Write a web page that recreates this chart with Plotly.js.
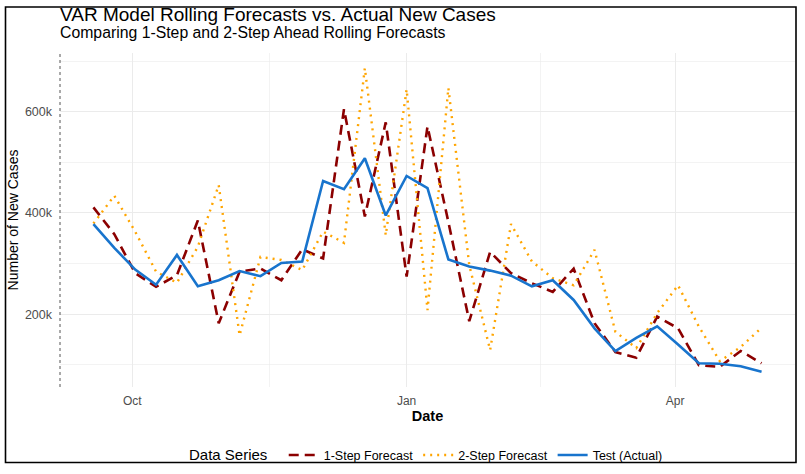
<!DOCTYPE html>
<html>
<head>
<meta charset="utf-8">
<script src="https://cdn.plot.ly/plotly-3.0.1.min.js"></script>
<style>html,body{margin:0;padding:0;background:#fff;}#chart{width:805px;height:474px;}</style>
</head>
<body>
<div id="chart"></div>
<script>
// Weekly dates
const dates = ["2020-09-18","2020-09-25","2020-10-02","2020-10-09","2020-10-16","2020-10-23","2020-10-30",
  "2020-11-06","2020-11-13","2020-11-20","2020-11-27","2020-12-04","2020-12-11","2020-12-18","2020-12-25",
  "2021-01-01","2021-01-08","2021-01-15","2021-01-22","2021-01-29","2021-02-05","2021-02-12","2021-02-19",
  "2021-02-26","2021-03-05","2021-03-12","2021-03-19","2021-03-26","2021-04-02","2021-04-09","2021-04-16",
  "2021-04-23","2021-04-30"];

// Test (Actual) new cases
const actual = [378000,331000,288000,258000,317000,255000,267000,285000,275000,301000,304000,
  463000,447000,508000,395000,473000,449000,308000,294000,286000,276000,255000,267000,228000,
  172000,127000,153000,176000,140000,103000,102000,97000,86000];

// 1-Step Forecast
const step1 = [411000,358000,281000,254000,277000,385000,182000,284000,290000,267000,328000,
  310000,605000,393000,579000,274000,571000,382000,186000,323000,281000,261000,244000,290000,
  182000,125000,114000,195000,172000,99000,96000,127000,103000];

// 2-Step Forecast
const step2 = [379000,434000,363000,284000,262000,333000,455000,158000,313000,307000,287000,
  363000,341000,686000,356000,644000,208000,647000,297000,129000,378000,304000,271000,257000,
  327000,165000,133000,202000,257000,175000,107000,135000,173000];

const seriesNames = ["1-Step Forecast","2-Step Forecast","Test (Actual)"];
const yTickVals = [200000,400000,600000];
const yTickText = ["200k","400k","600k"];
const xTickVals = ["2020-10-01","2021-01-01","2021-04-01"];
const xTickText = ["Oct","Jan","Apr"];

const traces = [
  {x: dates, y: step1, name: seriesNames[0], type: "scatter", mode: "lines",
   line: {color: "#8B0000", width: 2.6, dash: "10px,6px"}},
  {x: dates, y: step2, name: seriesNames[1], type: "scatter", mode: "lines",
   line: {color: "#FFA500", width: 2.4, dash: "2px,5px"}},
  {x: dates, y: actual, name: seriesNames[2], type: "scatter", mode: "lines",
   line: {color: "#1874CD", width: 2.6}}
];

const T = 53.4, B = 386.7, H = B - T;
const grid = "#ebebeb";
const layout = {
  width: 805, height: 474,
  margin: {l: 60, r: 10, t: T, b: 474 - B, autoexpand: false},
  paper_bgcolor: "#fff", plot_bgcolor: "#fff",
  font: {family: "Liberation Sans, Arial, sans-serif", color: "#000"},
  title: {text: "VAR Model Rolling Forecasts vs. Actual New Cases", x: 60/805, xanchor: "left",
          y: 1 - 14/474, yanchor: "middle", yref: "container",
          font: {size: 19, color: "#000"}},
  xaxis: {type: "date", range: ["2020-09-06 19:00", "2021-05-11 05:00"],
          tickvals: xTickVals, ticktext: xTickText, ticks: "",
          tickfont: {size: 12, color: "#4d4d4d"}, ticklabelstandoff: 5, automargin: false,
          showgrid: true, gridcolor: grid, gridwidth: 1.1, zeroline: false, showline: false,
          minor: {tickvals: ["2020-11-16","2021-02-15"], showgrid: true, gridcolor: grid, gridwidth: 0.6, ticks: ""},
          title: {text: "<b>Date</b>", font: {size: 14.5, color: "#000"}, standoff: 3}},
  yaxis: {range: [56000, 716000], tickvals: yTickVals, ticktext: yTickText, ticks: "",
          tickfont: {size: 12.5, color: "#4d4d4d"}, ticklabelstandoff: 7, automargin: false,
          showgrid: true, gridcolor: grid, gridwidth: 1.1, zeroline: false, showline: false,
          minor: {tickvals: [100000,300000,500000,700000], showgrid: true, gridcolor: grid, gridwidth: 0.6, ticks: ""},
          title: {text: "Number of New Cases", font: {size: 14, color: "#000"}, standoff: 2}},
  legend: {orientation: "h", x: 0.5, xanchor: "center", y: (B - 455)/H, yanchor: "middle",
           bgcolor: "rgba(0,0,0,0)",
           title: {text: "Data Series  ", font: {size: 15, color: "#000"}, side: "left"},
           font: {size: 12.5, color: "#000"}, itemwidth: 30, tracegroupgap: 0},
  annotations: [
    {text: "Comparing 1-Step and 2-Step Ahead Rolling Forecasts", xref: "paper", yref: "paper",
     x: -2/735, y: (B - 32.5)/H, xanchor: "left", yanchor: "middle", showarrow: false,
     font: {size: 15.8, color: "#000"}}
  ],
  shapes: [
    {type: "line", xref: "paper", yref: "paper", x0: 0, x1: 0, y0: 0, y1: 1,
     line: {color: "#555", width: 1, dash: "3px,3px"}},
    {type: "rect", xref: "paper", yref: "paper", x0: (5.5-60)/735, x1: (796-60)/735,
     y0: (B-462)/H, y1: (B-7.5)/H, line: {color: "#000", width: 1.6}, fillcolor: "rgba(0,0,0,0)"}
  ]
};

Plotly.newPlot("chart", traces, layout, {displayModeBar: false, staticPlot: true});
</script>
</body>
</html>
